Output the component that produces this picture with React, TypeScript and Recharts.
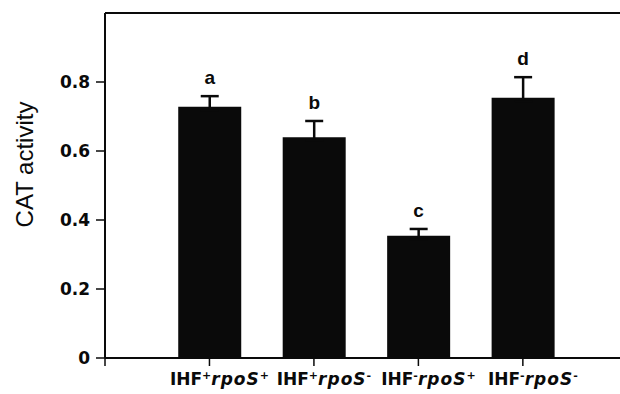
import { BarChart, Bar, XAxis, YAxis, ErrorBar, ReferenceLine, LabelList } from 'recharts';

// one bar per strain
const positions = [1, 2, 3, 4];
const ihfSigns = ['+', '+', '-', '-'];
const rposSigns = ['+', '-', '+', '-'];
const activity = [0.728, 0.64, 0.354, 0.754];
const errors = [0.031, 0.047, 0.02, 0.06];
const letters = ['a', 'b', 'c', 'd'];
const yTicks = [0, 0.2, 0.4, 0.6, 0.8];

// lower whisker is tucked just inside the bar so only the upper one shows
const data = positions.map((pos, i) => ({
  pos,
  value: activity[i],
  err: [0.01, errors[i]],
  letter: letters[i],
}));

const INK = '#0a0a0a';
const tickFont = '"DejaVu Sans", sans-serif';

const StrainTick = ({ x, y, payload }: any) => {
  const i = positions.indexOf(payload.value);
  if (i < 0) return null;
  return (
    <text
      x={x + 10}
      y={y}
      dy={17}
      textAnchor="middle"
      fontFamily={tickFont}
      fontWeight="bold"
      fontSize={17}
      fill={INK}
    >
      <tspan>IHF</tspan>
      <tspan fontSize={11} dy={-6}>{ihfSigns[i]}</tspan>
      <tspan dy={6} fontStyle="italic" letterSpacing={1}>rpoS</tspan>
      <tspan fontSize={11} dy={-6}>{rposSigns[i]}</tspan>
    </text>
  );
};

const LetterLabel = ({ x, y, width, height, value, index }: any) => {
  const v = activity[index];
  const errTop = y - errors[index] * (height / v);
  return (
    <text
      x={x + width / 2}
      y={errTop - 12}
      textAnchor="middle"
      fontFamily='"Liberation Sans", Arial, sans-serif'
      fontWeight="bold"
      fontSize={19}
      fill={INK}
    >
      {value}
    </text>
  );
};

const YTitle = ({ viewBox }: any) => {
  const cx = viewBox.x + 24;
  const cy = viewBox.y + viewBox.height / 2 - 21;
  return (
    <text
      x={cx}
      y={cy}
      transform={`rotate(-90, ${cx}, ${cy})`}
      textAnchor="middle"
      dominantBaseline="central"
      fontFamily='"Liberation Sans", Arial, sans-serif'
      fontSize={24}
      fill={INK}
    >
      CAT activity
    </text>
  );
};

export default function App() {
  return (
    <div style={{ position: 'absolute', left: 0, top: 0 }}>
      <BarChart
        width={620}
        height={394}
        data={data}
        margin={{ top: 13, right: 0, bottom: 0, left: 0 }}
      >
        <XAxis
          dataKey="pos"
          type="number"
          domain={[0, 4.93]}
          ticks={[0, 1, 2, 3, 4]}
          allowDataOverflow
          height={36}
          tickSize={8}
          tickMargin={2}
          axisLine={{ stroke: INK, strokeWidth: 2 }}
          tickLine={{ stroke: INK, strokeWidth: 1.5 }}
          tick={<StrainTick />}
        />
        <YAxis
          width={105}
          domain={[0, 1]}
          ticks={yTicks}
          tickSize={9}
          tickMargin={6}
          axisLine={{ stroke: INK, strokeWidth: 2 }}
          tickLine={{ stroke: INK, strokeWidth: 1.5 }}
          tick={{ fill: INK, fontFamily: tickFont, fontWeight: 'bold', fontSize: 17 }}
          tickFormatter={(v: number) => (v === 0 ? '0' : v.toFixed(1))}
          label={<YTitle />}
        />
        <ReferenceLine y={1} stroke={INK} strokeWidth={2} />
        <Bar dataKey="value" fill={INK} barSize={63} isAnimationActive={false}>
          <ErrorBar dataKey="err" direction="y" width={9} stroke={INK} strokeWidth={2.5} />
          <LabelList dataKey="letter" content={<LetterLabel />} />
        </Bar>
      </BarChart>
    </div>
  );
}
